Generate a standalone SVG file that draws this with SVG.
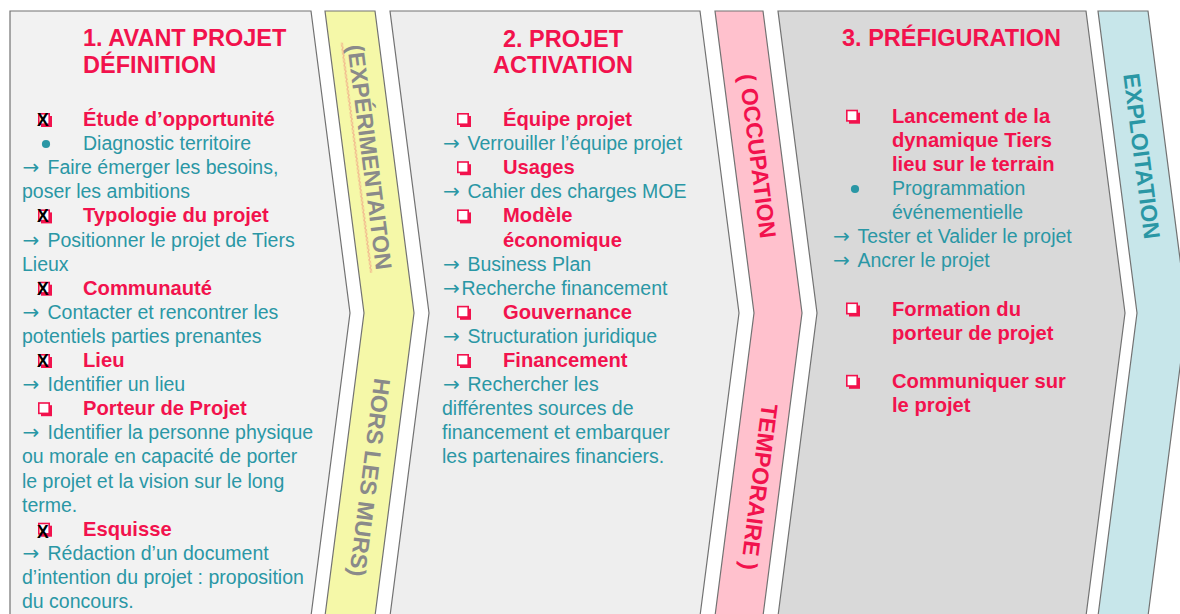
<svg xmlns="http://www.w3.org/2000/svg" xmlns:xlink="http://www.w3.org/1999/xlink" width="1180" height="614" viewBox="0 0 1180 614">
  <defs>
    <style>
      .shape { stroke: #727272; stroke-width: 1.2; stroke-linejoin: miter; }
      .title { font-family: "Liberation Sans", Arial, sans-serif; font-weight: bold; font-size: 23.5px; fill: #f2124d; }
      .head { font-family: "Liberation Sans", Arial, sans-serif; font-weight: bold; font-size: 20.2px; fill: #f2124d; }
      .body { font-family: "Liberation Sans", Arial, sans-serif; font-size: 19.5px; fill: #2a97a5; }
      .arr { font-family: "DejaVu Sans", sans-serif; font-size: 20px; }
      .mark { font-family: "Liberation Sans", Arial, sans-serif; font-weight: bold; font-size: 17.5px; fill: #000000; }
      .band { font-family: "Liberation Sans", Arial, sans-serif; font-weight: bold; font-size: 23px; text-anchor: middle; }
      .bullet { fill: #2a97a5; }
    </style>
    <!-- checkbox glyph: outlined square with a drop shadow -->
    <g id="box">
      <rect x="3" y="3" width="11" height="11" fill="#f2124d"/>
      <rect x="0.8" y="0.8" width="10.4" height="10.4" fill="#ffffff" stroke="#f2124d" stroke-width="1.6"/>
    </g>
    <!-- spell-check squiggle -->
    <pattern id="squiggle" x="0" y="0" width="4" height="3" patternUnits="userSpaceOnUse">
      <path d="M0,0.6 L2,2.4 L4,0.6" fill="none" stroke="#ec4a60" stroke-width="0.6"/>
    </pattern>
  </defs>

  <rect width="1180" height="614" fill="#ffffff"/>

  <!-- Phase 1 -->
  <g id="phase-avant-projet">
    <path class="shape" fill="#f2f2f2" d="M10,11 H311 L350,313 L311,616 H10 Z"/>
    <text class="title" x="83" y="46">1. AVANT PROJET</text>
    <text class="title" x="83" y="73">DÉFINITION</text>

    <use xlink:href="#box" x="38" y="113"/>
    <text class="mark" x="37" y="126">X</text>
    <text class="head" x="83" y="126">Étude d’opportunité</text>
    <circle class="bullet" cx="46" cy="144" r="4.1"/>
    <text class="body" x="83" y="150.1">Diagnostic territoire</text>
    <text class="body" x="22.5" y="174.2"><tspan class="arr">→</tspan><tspan x="47.5">Faire émerger les besoins,</tspan></text>
    <text class="body" x="22" y="198.3">poser les ambitions</text>

    <use xlink:href="#box" x="38" y="209.4"/>
    <text class="mark" x="37" y="222.4">X</text>
    <text class="head" x="83" y="222.4">Typologie du projet</text>
    <text class="body" x="22.5" y="246.5"><tspan class="arr">→</tspan><tspan x="47.5">Positionner le projet de Tiers</tspan></text>
    <text class="body" x="22" y="270.6">Lieux</text>

    <use xlink:href="#box" x="38" y="281.7"/>
    <text class="mark" x="37" y="294.7">X</text>
    <text class="head" x="83" y="294.7">Communauté</text>
    <text class="body" x="22.5" y="318.8"><tspan class="arr">→</tspan><tspan x="47.5">Contacter et rencontrer les</tspan></text>
    <text class="body" x="22" y="342.9">potentiels parties prenantes</text>

    <use xlink:href="#box" x="38" y="354"/>
    <text class="mark" x="37" y="367">X</text>
    <text class="head" x="83" y="367">Lieu</text>
    <text class="body" x="22.5" y="391.1"><tspan class="arr">→</tspan><tspan x="47.5">Identifier un lieu</tspan></text>

    <use xlink:href="#box" x="38" y="402.2"/>
    <text class="head" x="83" y="415.2">Porteur de Projet</text>
    <text class="body" x="22.5" y="439.3"><tspan class="arr">→</tspan><tspan x="47.5">Identifier la personne physique</tspan></text>
    <text class="body" x="22" y="463.4">ou morale en capacité de porter</text>
    <text class="body" x="22" y="487.5">le projet et la vision sur le long</text>
    <text class="body" x="22" y="511.6">terme.</text>

    <use xlink:href="#box" x="38" y="522.7"/>
    <text class="mark" x="37" y="538">X</text>
    <text class="head" x="83" y="535.7">Esquisse</text>
    <text class="body" x="22.5" y="559.8"><tspan class="arr">→</tspan><tspan x="47.5">Rédaction d’un document</tspan></text>
    <text class="body" x="22" y="583.9">d’intention du projet : proposition</text>
    <text class="body" x="22" y="608">du concours.</text>
  </g>

  <!-- Band: experimentation -->
  <g id="band-experimentation">
    <path class="shape" fill="#f5f8a8" d="M325,11 H375 L414,313 L375,616 H325 L364,313 Z"/>
    <g transform="translate(370,157) rotate(82.7)">
      <rect x="-117" y="12" width="232" height="3" fill="url(#squiggle)"/>
      <text class="band" x="0" y="0" dy="0.36em" fill="#8a8a8a">(EXPÉRIMENTAITON</text>
    </g>
    <text class="band" transform="translate(370,477.5) rotate(97.3)" x="0" y="0" dy="0.36em" fill="#8a8a8a">HORS LES MURS)</text>
  </g>

  <!-- Phase 2 -->
  <g id="phase-projet-activation">
    <path class="shape" fill="#eeeeee" d="M390,11 H700 L739,313 L700,616 H390 L429,313 Z"/>
    <text class="title" x="563" y="46.5" text-anchor="middle">2. PROJET</text>
    <text class="title" x="563" y="73.3" text-anchor="middle">ACTIVATION</text>

    <use xlink:href="#box" x="457" y="113"/>
    <text class="head" x="503" y="126">Équipe projet</text>
    <text class="body" x="443" y="150.1"><tspan class="arr">→</tspan><tspan x="467.5">Verrouiller l’équipe projet</tspan></text>
    <use xlink:href="#box" x="457" y="161.2"/>
    <text class="head" x="503" y="174.2">Usages</text>
    <text class="body" x="443" y="198.3"><tspan class="arr">→</tspan><tspan x="467.5">Cahier des charges MOE</tspan></text>
    <use xlink:href="#box" x="457" y="209.4"/>
    <text class="head" x="503" y="222.4">Modèle</text>
    <text class="head" x="503" y="246.5">économique</text>
    <text class="body" x="443" y="270.6"><tspan class="arr">→</tspan><tspan x="467.5">Business Plan</tspan></text>
    <text class="body" x="443" y="294.7"><tspan class="arr">→</tspan><tspan x="461.5">Recherche financement</tspan></text>
    <use xlink:href="#box" x="457" y="305.8"/>
    <text class="head" x="503" y="318.8">Gouvernance</text>
    <text class="body" x="443" y="342.9"><tspan class="arr">→</tspan><tspan x="467.5">Structuration juridique</tspan></text>
    <use xlink:href="#box" x="457" y="354"/>
    <text class="head" x="503" y="367">Financement</text>
    <text class="body" x="443" y="391.1"><tspan class="arr">→</tspan><tspan x="467.5">Rechercher les</tspan></text>
    <text class="body" x="442" y="415.2">différentes sources de</text>
    <text class="body" x="442" y="439.3">financement et embarquer</text>
    <text class="body" x="442" y="463.4">les partenaires financiers.</text>
  </g>

  <!-- Band: temporary occupation -->
  <g id="band-occupation">
    <path class="shape" fill="#ffc1cd" d="M715,11 H763 L802,313 L763,616 H715 L754,313 Z"/>
    <text class="band" transform="translate(758,156) rotate(82.7)" x="0" y="0" dy="0.36em" fill="#f2124d">( OCCUPATION</text>
    <text class="band" transform="translate(759.5,487) rotate(97.3)" x="0" y="0" dy="0.36em" fill="#f2124d">TEMPORAIRE )</text>
  </g>

  <!-- Phase 3 -->
  <g id="phase-prefiguration">
    <path class="shape" fill="#d9d9d9" d="M778,11 H1086 L1125,313 L1086,616 H778 L817,313 Z"/>
    <text class="title" x="842" y="45.7">3. PRÉFIGURATION</text>

    <use xlink:href="#box" x="846" y="109.7"/>
    <text class="head" x="892" y="122.7">Lancement de la</text>
    <text class="head" x="892" y="146.8">dynamique Tiers</text>
    <text class="head" x="892" y="170.9">lieu sur le terrain</text>
    <circle class="bullet" cx="855" cy="189" r="4.1"/>
    <text class="body" x="892" y="195">Programmation</text>
    <text class="body" x="892" y="219.1">événementielle</text>
    <text class="body" x="833" y="243.2"><tspan class="arr">→</tspan><tspan x="857.5">Tester et Valider le projet</tspan></text>
    <text class="body" x="833" y="267.3"><tspan class="arr">→</tspan><tspan x="857.5">Ancrer le projet</tspan></text>

    <use xlink:href="#box" x="846" y="302.5"/>
    <text class="head" x="892" y="315.5">Formation du</text>
    <text class="head" x="892" y="339.6">porteur de projet</text>

    <use xlink:href="#box" x="846" y="374.8"/>
    <text class="head" x="892" y="387.8">Communiquer sur</text>
    <text class="head" x="892" y="411.9">le projet</text>
  </g>

  <!-- Band: operation -->
  <g id="band-exploitation">
    <path class="shape" fill="#c7e6ea" d="M1098,11 H1148 L1187,313 L1148,616 H1098 L1137,313 Z"/>
    <text class="band" transform="translate(1142,156) rotate(82.7)" x="0" y="0" dy="0.36em" fill="#2a97a5">EXPLOITATION</text>
  </g>
</svg>
